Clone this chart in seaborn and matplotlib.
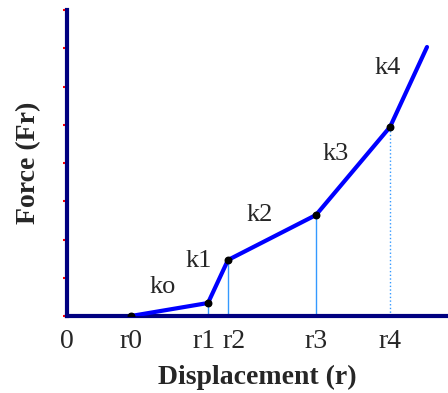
import matplotlib
matplotlib.use("Agg")
import matplotlib.pyplot as plt
import matplotlib.transforms as mtransforms
import seaborn as sns
import pandas as pd
import numpy as np

# data (arbitrary units)
r_labels = ["0", "r0", "r1", "r2", "r3", "r4"]
r_values = [0, 64, 141, 161, 249, 323]
curve_x = [64, 141, 161, 249, 323, 360]
curve_f = [0, 13, 56, 101, 189, 269]
k_labels = ["ko", "k1", "k2", "k3", "k4"]
k_x = [96, 132, 193, 269, 321]
k_y = [29, 55, 101, 162, 248]

sns.set_style("white")
plt.rcParams["font.family"] = ["Liberation Serif", "DejaVu Serif"]

fig = plt.figure(figsize=(4.48, 3.93), dpi=100)
ax = fig.add_axes([67 / 448, 77 / 393, 381 / 448, 306 / 393])

df = pd.DataFrame({"r": curve_x, "F": curve_f})

# guide lines from the break points down to the axis
for i, (x, y) in enumerate(zip(curve_x[1:5], curve_f[1:5])):
    ls = ":" if i == 3 else "-"
    ax.vlines(x, 0, y, color="#3399ff", lw=1.0, ls=ls, zorder=1)

sns.lineplot(data=df, x="r", y="F", ax=ax, color="#0000ff", lw=3, zorder=3)
ax.scatter(curve_x[:5], curve_f[:5], s=22, color="black", zorder=4)

for lab, x, y in zip(k_labels, k_x, k_y):
    ax.text(x, y, lab, fontsize=19, ha="center", va="center")

ax.set_xlim(0, 381)
ax.set_ylim(0, 306)
ax.set_xticks(r_values)
ax.set_xticklabels(r_labels, fontsize=20)
ax.set_yticks(np.linspace(0, 306, 9))
ax.set_yticklabels([])
ax.tick_params(axis="x", length=0, pad=9)
ax.tick_params(axis="y", length=3, width=1.5, color="red", direction="out", left=True)

# r1 and r2 sit close together, nudge them apart like the original
nudges = {"r1": -4, "r2": 6}
for lbl in ax.get_xticklabels():
    dx = nudges.get(lbl.get_text(), 0)
    if dx:
        lbl.set_transform(lbl.get_transform() +
                          mtransforms.ScaledTranslation(dx / 100, 0, fig.dpi_scale_trans))

for side in ["top", "right"]:
    ax.spines[side].set_visible(False)
for side in ["left", "bottom"]:
    ax.spines[side].set_color("#000080")
    ax.spines[side].set_linewidth(3)

ax.set_xlabel("Displacement (r)", fontsize=20, fontweight="bold", labelpad=8)
ax.set_ylabel("Force (Fr)", fontsize=20, fontweight="bold", labelpad=12)

fig.savefig("out.png", dpi=100)
